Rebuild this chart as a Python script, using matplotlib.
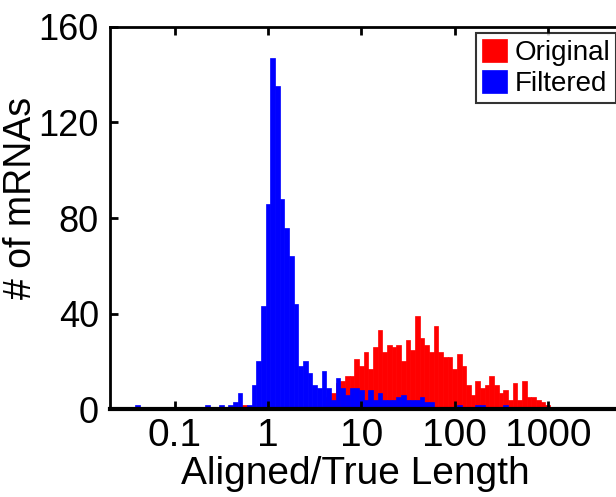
import numpy as np
import matplotlib
matplotlib.use("Agg")
import matplotlib.pyplot as plt

# Histogram bins: log10 bin centres are 0.05 * k (20 bins per decade)
bin_step = 0.05

blue_bin = [-28, -24, -23, -22, -21, -13, -10, -8, -7, -6, -5, -4, -3, -2, -1,
            0, 1, 2, 3, 4, 5, 6, 7, 8, 9, 10, 11, 12, 13, 14, 15, 16, 17, 18,
            19, 20, 21, 22, 23, 24, 25, 26, 27, 28, 29, 30, 31, 32, 33, 34, 35,
            36, 37, 38, 39, 40, 41, 42, 43, 44, 45, 46, 47, 48, 49, 50, 51]
blue_count = [2, 1, 1, 1, 1, 2, 2, 2, 3, 7, 1, 2, 10, 20, 43,
              86, 147, 135, 88, 76, 64, 44, 18, 20, 15, 10, 9, 16, 9, 4, 13, 9, 6, 9,
              9, 8, 4, 8, 4, 7, 4, 4, 4, 5, 6, 4, 4, 4, 5, 3, 3,
              1, 1, 1, 1, 1, 2, 1, 1, 1, 2, 2, 1, 1, 1, 1, 2]

red_bin = [-5, 13, 14, 15, 16, 17, 18, 19, 20, 21, 22, 23, 24, 25, 26, 27, 28,
           29, 30, 31, 32, 33, 34, 35, 36, 37, 38, 39, 40, 41, 42, 43, 44, 45,
           46, 47, 48, 49, 50, 51, 52, 53, 54, 55, 56, 57, 58, 59, 60, 61, 62,
           63, 65, 66]
red_count = [2, 5, 7, 11, 12, 14, 14, 21, 18, 24, 17, 26, 33, 24, 27, 26, 27,
             20, 29, 25, 39, 30, 27, 24, 35, 24, 22, 22, 17, 23, 18, 10, 6, 12,
             9, 10, 14, 10, 7, 8, 4, 11, 4, 12, 5, 5, 4, 3, 2, 1, 1,
             1, 1, 1]

x_ticks = [0.1, 1, 10, 100, 1000]
x_ticklabels = ["0.1", "1", "10", "100", "1000"]
y_ticks = [0, 40, 80, 120, 160]

plt.rcParams['font.family'] = ['Liberation Sans', 'DejaVu Sans']

W, H = 616, 497
fig = plt.figure(figsize=(W / 100, H / 100), dpi=100)
left_px, right_px, top_px, bot_px = 110, 641, 26.7, 409.3
ax = fig.add_axes([left_px / W, 1 - bot_px / H, (right_px - left_px) / W,
                   (bot_px - top_px) / H])


def edges(bins):
    b = np.asarray(bins, dtype=float)
    lo = 10 ** (b * bin_step - bin_step / 2)
    hi = 10 ** (b * bin_step + bin_step / 2)
    return lo, hi - lo


rl, rw = edges(red_bin)
bl, bw = edges(blue_bin)
ax.bar(rl, red_count, width=rw, align='edge', color='#ff0000',
       edgecolor='#ff0000', linewidth=0.5, label='Original')
ax.bar(bl, blue_count, width=bw, align='edge', color='#0000ff',
       edgecolor='#0000ff', linewidth=0.5, label='Filtered')

ax.set_xscale('log')
ax.set_xlim(0.0202, 1e4)
ax.set_ylim(0, 160)
ax.set_xticks(x_ticks)
ax.set_xticklabels(x_ticklabels)
ax.xaxis.set_minor_locator(matplotlib.ticker.NullLocator())
ax.set_yticks(y_ticks)

for s in ax.spines.values():
    s.set_linewidth(2)
    s.set_color('black')
ax.spines['bottom'].set_linewidth(3)

ax.tick_params(axis='both', which='major', direction='in', length=6, width=2,
               labelsize=28, top=True, right=True, pad=6)
ax.tick_params(axis='y', labelsize=26, pad=8)

ax.set_xlabel('Aligned/True Length', fontsize=28)
ax.set_ylabel('# of mRNAs', fontsize=27)
ax.xaxis.set_label_coords((355 - left_px) / (right_px - left_px), -0.122)
ax.yaxis.set_label_coords(-0.133, 0.552)

leg = ax.legend(loc='upper left', bbox_to_anchor=(476 / W, 1 - 33 / H),
                bbox_transform=fig.transFigure, fontsize=20, frameon=True,
                fancybox=False, edgecolor='black', handlelength=0.9,
                handleheight=0.9, handletextpad=0.3, borderpad=0.2,
                labelspacing=0.15, borderaxespad=0)
leg.get_frame().set_linewidth(1.5)

fig.savefig('out.png', dpi=100)
